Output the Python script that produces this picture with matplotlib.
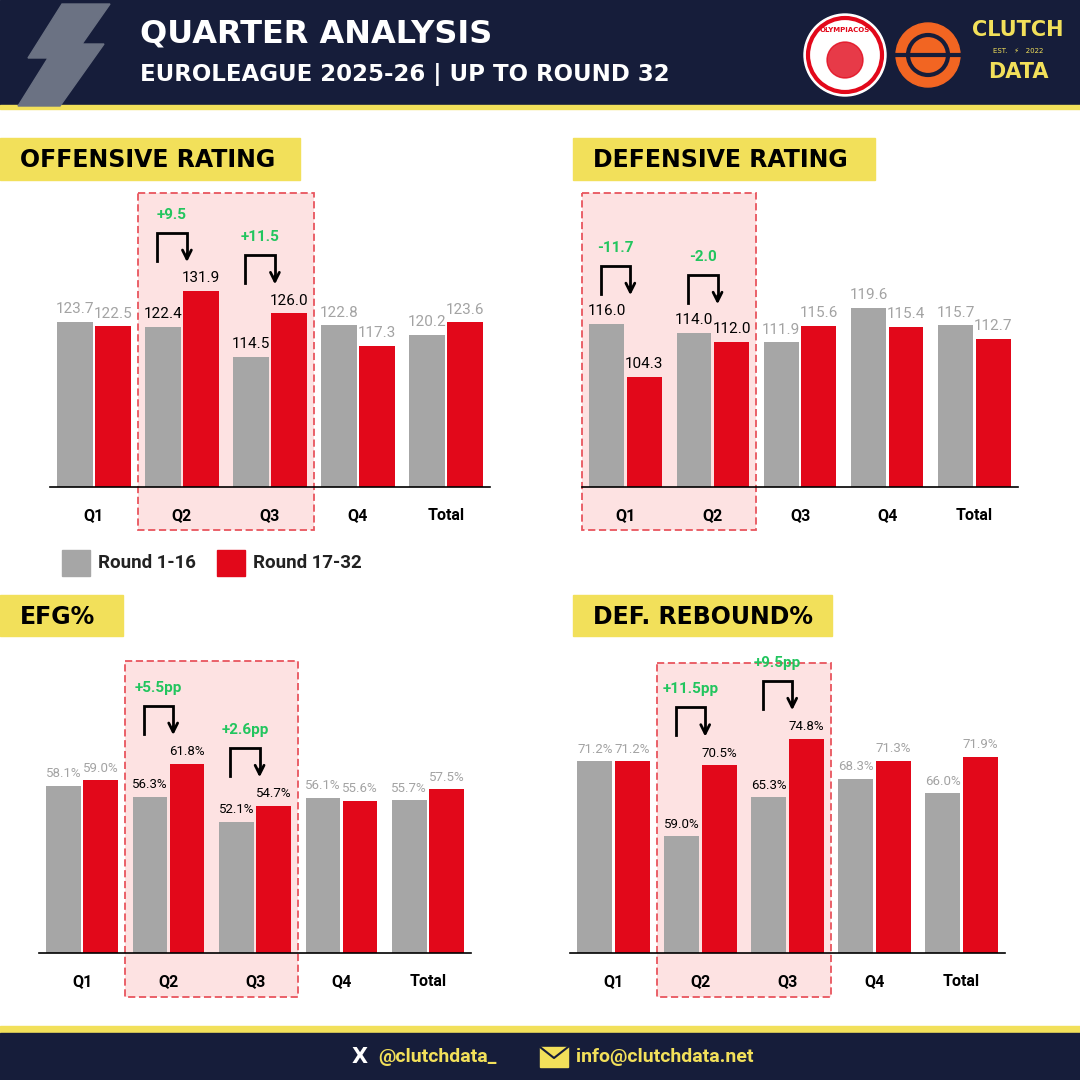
import matplotlib
matplotlib.use("Agg")
import matplotlib.pyplot as plt
from matplotlib.patches import Rectangle, Polygon, Circle

cats = ["Q1", "Q2", "Q3", "Q4", "Total"]
off_r1 = [123.7, 122.4, 114.5, 122.8, 120.2]
off_r2 = [122.5, 131.9, 126.0, 117.3, 123.6]
def_r1 = [116.0, 114.0, 111.9, 119.6, 115.7]
def_r2 = [104.3, 112.0, 115.6, 115.4, 112.7]
efg_r1 = [58.1, 56.3, 52.1, 56.1, 55.7]
efg_r2 = [59.0, 61.8, 54.7, 55.6, 57.5]
dreb_r1 = [71.2, 59.0, 65.3, 68.3, 66.0]
dreb_r2 = [71.2, 70.5, 74.8, 71.3, 71.9]
legend_labels = ["Round 1-16", "Round 17-32"]

NAVY = "#161d3a"; YEL = "#f2e05a"; GRAY = "#a6a6a6"; RED = "#e2081a"
GREEN = "#22c55e"; PINK = "#fde2e2"; DASH = "#e8555e"; LGRAY = "#a3a3a3"

W = H = 1080
fig = plt.figure(figsize=(10.8, 10.8), dpi=100)
fig.patch.set_facecolor("white")
TF = "DejaVu Sans"; NF = "Roboto"

bg = fig.add_axes([0, 0, 1, 1], zorder=-1)
bg.set_xlim(0, W); bg.set_ylim(H, 0); bg.axis("off")
fg = fig.add_axes([0, 0, 1, 1], zorder=10)
fg.set_xlim(0, W); fg.set_ylim(H, 0); fg.axis("off")

# header
bg.add_patch(Rectangle((0, 0), W, 105, color=NAVY))
bg.add_patch(Rectangle((0, 105), W, 4, color=YEL))
bg.add_patch(Polygon([(62, 4), (110, 4), (82, 44), (104, 44), (60, 106), (18, 106), (48, 58), (28, 58)],
                     color="#6b7283"))
bg.text(140, 34, "QUARTER ANALYSIS", color="white", fontsize=23, fontweight="heavy", family=TF, va="center")
bg.text(140, 75, "EUROLEAGUE 2025-26 | UP TO ROUND 32", color="white", fontsize=16.5, fontweight="heavy",
        family=TF, va="center")
bg.add_patch(Circle((845, 55), 41, color="white"))
bg.add_patch(Circle((845, 55), 37, fill=False, ec=RED, lw=3))
bg.text(845, 30, "OLYMPIACOS", color=RED, fontsize=5, fontweight="bold", ha="center", va="center")
bg.add_patch(Circle((845, 60), 18, color=RED, alpha=0.8))
bg.add_patch(Circle((928, 55), 32, color="#f26522"))
bg.add_patch(Circle((928, 55), 20, fill=False, ec=NAVY, lw=3))
bg.plot([896, 960], [55, 55], color=NAVY, lw=3)
bg.text(1018, 30, "CLUTCH", color=YEL, fontsize=15, fontweight="heavy", family=TF, ha="center", va="center")
bg.text(1018, 51, "EST.   ⚡   2022", color=YEL, fontsize=5, family=TF, ha="center", va="center")
bg.text(1018, 72, "DATA", color=YEL, fontsize=15, fontweight="heavy", family=TF, ha="center", va="center")

# footer
bg.add_patch(Rectangle((0, 1026), W, 7, color=YEL))
bg.add_patch(Rectangle((0, 1033), W, 47, color=NAVY))
bg.text(360, 1057, "X", color="white", fontsize=15, fontweight="bold", ha="center", va="center")
bg.text(378, 1057, "@clutchdata_", color=YEL, fontsize=14, fontweight="bold", family=NF, va="center")
bg.add_patch(Rectangle((540, 1047), 28, 20, color=YEL))
bg.plot([540, 554, 568], [1047, 1058, 1047], color=NAVY, lw=1.5)
bg.text(576, 1057, "info@clutchdata.net", color=YEL, fontsize=14, fontweight="bold", family=NF, va="center")

panels = [
    dict(title="OFFENSIVE RATING", tbox=(0, 138, 300, 42), r1=off_r1, r2=off_r2, left=50, width=440,
         base=487, ymin=80, scale=3.78, hl=[1, 2], box=(193, 530), fs=11, fmt="{:.1f}", suf=""),
    dict(title="DEFENSIVE RATING", tbox=(573, 138, 302, 42), r1=def_r1, r2=def_r2, left=582, width=436,
         base=487, ymin=80, scale=4.53, hl=[0, 1], box=(193, 530), fs=11, fmt="{:.1f}", suf=""),
    dict(title="EFG%", tbox=(0, 595, 123, 41), r1=efg_r1, r2=efg_r2, left=39, width=432,
         base=953, ymin=30, scale=5.95, hl=[1, 2], box=(661, 997), fs=9.5, fmt="{:.1f}%", suf="pp"),
    dict(title="DEF. REBOUND%", tbox=(573, 595, 259, 41), r1=dreb_r1, r2=dreb_r2, left=570, width=435,
         base=953, ymin=40, scale=6.15, hl=[1, 2], box=(663, 997), fs=9.5, fmt="{:.1f}%", suf="pp"),
]

for p in panels:
    x0, y0, w, h = p["tbox"]
    bg.add_patch(Rectangle((x0, y0), w, h, color=YEL))
    bg.text(x0 + 20, y0 + h / 2 + 1, p["title"], fontsize=17, fontweight="heavy", family=TF, va="center")
    top = p["box"][0]
    hp = p["base"] - top
    ax = fig.add_axes([p["left"] / W, 1 - p["base"] / H, p["width"] / W, hp / H])
    ax.set_facecolor("none")
    ax.set_xlim(-0.5, 4.5)
    ax.set_ylim(p["ymin"], p["ymin"] + hp / p["scale"])
    xs = range(len(cats))
    bw = 0.4; off = 0.215
    ax.bar([x - off for x in xs], p["r1"], bw, color=GRAY)
    ax.bar([x + off for x in xs], p["r2"], bw, color=RED)
    for s in ["top", "left", "right"]:
        ax.spines[s].set_visible(False)
    ax.spines["bottom"].set_linewidth(1.2)
    ax.set_yticks([])
    ax.set_xticks(list(xs))
    ax.set_xticklabels(cats, fontsize=11.5, fontweight="bold", family=NF)
    ax.tick_params(axis="x", length=0, pad=15)
    upx = p["width"] / 5
    px = lambda x: p["left"] + (x + 0.5) * upx
    py = lambda v: p["base"] - (v - p["ymin"]) * p["scale"]
    for i in xs:
        col = "black" if i in p["hl"] else LGRAY
        for dx, v in ((-off, p["r1"][i]), (off, p["r2"][i])):
            ax.annotate(p["fmt"].format(v), (i + dx, v), xytext=(0, 4), textcoords="offset points",
                        ha="center", va="bottom", fontsize=p["fs"], color=col, family=NF)
    bx0 = px(p["hl"][0] - 0.5); bx1 = px(p["hl"][-1] + 0.5)
    bg.add_patch(Rectangle((bx0, top), bx1 - bx0, p["box"][1] - top, fc=PINK, ec=DASH, lw=1.3, ls=(0, (4, 2))))
    for i in p["hl"]:
        a, b = p["r1"][i], p["r2"][i]
        lx = px(i - off) - 6; rx = px(i + off) - 14
        ty = min(py(a), py(b)) - 58
        fg.plot([lx, lx, rx, rx], [ty + 28, ty, ty, ty + 22], color="black", lw=2, solid_joinstyle="miter")
        fg.annotate("", xy=(rx, ty + 32), xytext=(rx, ty + 18),
                    arrowprops=dict(arrowstyle="->", color="black", lw=2, mutation_scale=16))
        d = b - a
        fg.text((lx + rx) / 2, ty - 18, f"{d:+.1f}{p['suf']}", color=GREEN, fontsize=11, fontweight="bold",
                family=NF, ha="center", va="center")

bg.add_patch(Rectangle((62, 550), 28, 26, color=GRAY))
bg.text(98, 563, legend_labels[0], fontsize=13.5, fontweight="bold", family=NF, va="center", color="#222")
bg.add_patch(Rectangle((217, 550), 28, 26, color=RED))
bg.text(253, 563, legend_labels[1], fontsize=13.5, fontweight="bold", family=NF, va="center", color="#222")

fig.savefig("out.png", dpi=100)
